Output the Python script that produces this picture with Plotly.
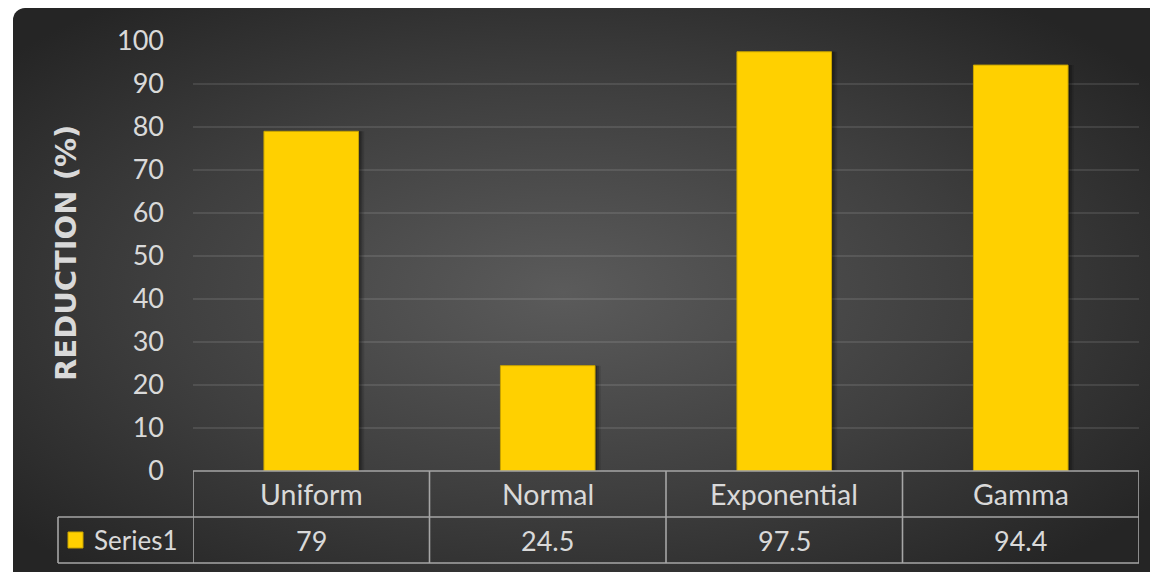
import base64
import plotly.graph_objects as go

# Chart data
categories = ["Uniform", "Normal", "Exponential", "Gamma"]
series_name = "Series1"
reduction = [79, 24.5, 97.5, 94.4]
y_ticks = [0, 10, 20, 30, 40, 50, 60, 70, 80, 90, 100]

W, H = 1150, 572
ML, MR, MT, MB = 193, 11, 41, 101
PW, PH = W - ML - MR, H - MT - MB

TXT = "#d9d9d9"
GOLD = "#FFD000"
FONT = "Lato"
BORDER = "#a6a6a6"


def px_x(p):
    """Pixel x -> paper x."""
    return (p - ML) / PW


def px_y(p):
    """Pixel y -> paper y."""
    return (H - MB - p) / PH


# Dark panel with a soft radial glow in the middle
svg = f"""<svg xmlns='http://www.w3.org/2000/svg' width='{W}' height='{H}' viewBox='0 0 {W} {H}'>
<defs><radialGradient id='g' cx='0.47' cy='0.48' r='0.62'>
<stop offset='0' stop-color='#5b5b5b'/><stop offset='0.55' stop-color='#3f3f3f'/><stop offset='1' stop-color='#252525'/>
</radialGradient></defs>
<rect x='13' y='8' width='{W + 20}' height='{H + 20}' rx='12' ry='12' fill='url(#g)'/>
</svg>"""
bg_src = "data:image/svg+xml;base64," + base64.b64encode(svg.encode()).decode()

fig = go.Figure()

# soft drop shadow to the right of each bar
for d, op in [(0.024, 0.12), (0.016, 0.18), (0.008, 0.25)]:
    fig.add_trace(go.Bar(
        x=list(range(len(categories))), y=reduction,
        width=0.4, offset=-0.2 + d,
        marker=dict(color=f"rgba(0,0,0,{op})", line=dict(width=0)),
        hoverinfo="skip", showlegend=False,
    ))

fig.add_trace(go.Bar(
    x=list(range(len(categories))), y=reduction, name=series_name,
    width=0.4, offset=-0.2,
    marker=dict(color=GOLD, line=dict(color="#c9a400", width=1)),
    hoverinfo="skip", showlegend=False,
))

shapes = []
line = dict(color=BORDER, width=1.6)
row1, row2 = px_y(517), px_y(563)
left = px_x(58)

# data table grid
shapes.append(dict(type="line", xref="paper", yref="paper", x0=0, x1=1, y0=0, y1=0, line=line))
shapes.append(dict(type="line", xref="paper", yref="paper", x0=left, x1=1, y0=row1, y1=row1, line=line))
shapes.append(dict(type="line", xref="paper", yref="paper", x0=left, x1=1, y0=row2, y1=row2, line=line))
shapes.append(dict(type="line", xref="paper", yref="paper", x0=left, x1=left, y0=row1, y1=row2, line=line))
for i in range(len(categories) + 1):
    shapes.append(dict(type="line", xref="x", yref="paper", x0=i - 0.5, x1=i - 0.5,
                       y0=0, y1=row2, line=line))

# legend key in the table
shapes.append(dict(type="rect", xref="paper", yref="paper",
                   x0=px_x(68), x1=px_x(83), y0=px_y(548), y1=px_y(532),
                   fillcolor=GOLD, line=dict(color="#c9a400", width=1)))

annotations = []
hdr_y, val_y = px_y(494), px_y(540)
for i, (cat, v) in enumerate(zip(categories, reduction)):
    annotations.append(dict(x=i, xref="x", y=hdr_y, yref="paper", text=cat, showarrow=False,
                            font=dict(family=FONT, size=28.5, color=TXT), yanchor="middle"))
    annotations.append(dict(x=i, xref="x", y=val_y, yref="paper", text=f"{v:g}", showarrow=False,
                            font=dict(family=FONT, size=27, color=TXT), yanchor="middle"))
annotations.append(dict(x=px_x(92), xref="paper", y=val_y, yref="paper", text=series_name,
                        showarrow=False, xanchor="left", yanchor="middle",
                        font=dict(family=FONT, size=26, color=TXT)))
annotations.append(dict(x=px_x(66), xref="paper", y=px_y(253), yref="paper",
                        text="<b>REDUCTION (%)</b>",
                        showarrow=False, textangle=-90, xanchor="center", yanchor="middle",
                        font=dict(family="DejaVu Sans", size=29, color=TXT)))

fig.update_layout(
    width=W, height=H,
    margin=dict(l=ML, r=MR, t=MT, b=MB, pad=0),
    paper_bgcolor="white",
    plot_bgcolor="rgba(0,0,0,0)",
    barmode="overlay",
    showlegend=False,
    images=[dict(source=bg_src, xref="paper", yref="paper",
                 x=px_x(0), y=px_y(0), sizex=W / PW, sizey=H / PH,
                 xanchor="left", yanchor="top", sizing="stretch", layer="below")],
    xaxis=dict(range=[-0.5, len(categories) - 0.5], showticklabels=False, showgrid=False,
               zeroline=False, showline=False, ticks=""),
    yaxis=dict(range=[0, 100], tickvals=y_ticks, showgrid=True,
               gridcolor="rgba(255,255,255,0.10)", gridwidth=1.5, zeroline=False,
               showline=False, ticks="", ticklabelstandoff=28,
               tickfont=dict(family=FONT, size=27, color=TXT)),
    shapes=shapes,
    annotations=annotations,
)

fig.write_html("out.html")
